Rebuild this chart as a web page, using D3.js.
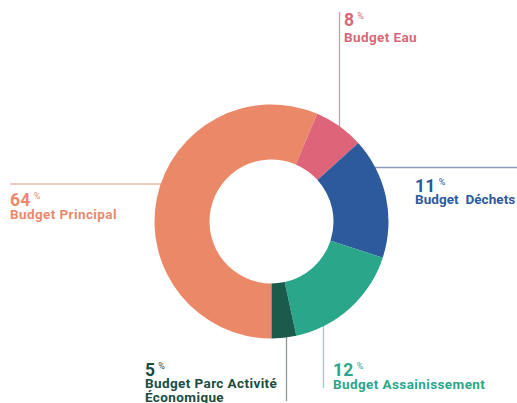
<!DOCTYPE html>
<html><head><meta charset="utf-8">
<script src="https://cdn.jsdelivr.net/npm/d3@7"></script>
<style>html,body{margin:0;padding:0;background:#fff;}svg{display:block;}</style>
</head><body>
<svg id="c" width="517" height="403"></svg>
<script>
const categories = ["Budget Principal","Budget Eau","Budget Déchets","Budget Assainissement","Budget Parc Activité Économique"];
const shares = [56.4, 6.9, 16.7, 16.6, 3.4];     // arc sizes as drawn
const percentLabels = ["64","8","11","12","5"];  // printed percentages
const colors = ["#EA8868","#DD6479","#2C5A9D","#2AA68B","#1A5B4B"];
const lineColors = ["#F1B9A6","#DE93A3","#8E9DB6","#8FD0C4","#8E9B99"];

const svg = d3.select("#c");
const cx = 271.5, cy = 221.5, R = 117, r = 62;
const font = "Roboto, 'Noto Sans', sans-serif";

const pie = d3.pie().sort(null).value(d => d).startAngle(Math.PI).endAngle(3*Math.PI);
const arcs = pie(shares);
const arc = d3.arc().innerRadius(r).outerRadius(R);

// leader lines (behind pie)
const gl = svg.append("g");
const edgeY = x => Math.sqrt(Math.max(0, R*R - (x-cx)*(x-cx)));
const edgeX = y => Math.sqrt(Math.max(0, R*R - (y-cy)*(y-cy)));
const leaders = [
  {x1:10, y1:184, x2:cx - edgeX(184) + 3, y2:184},
  {x1:339.5, y1:12, x2:339.5, y2:cy - edgeY(339.5) + 3},
  {x1:517, y1:167.5, x2:cx + edgeX(167.5) - 3, y2:167.5},
  {x1:323.5, y1:388, x2:323.5, y2:cy + edgeY(323.5) - 3},
  {x1:286.5, y1:401, x2:286.5, y2:cy + edgeY(286.5) - 3}
];
gl.selectAll("line").data(leaders).join("line")
  .attr("x1",d=>d.x1).attr("y1",d=>d.y1).attr("x2",d=>d.x2).attr("y2",d=>d.y2)
  .attr("stroke",(d,i)=>lineColors[i]).attr("stroke-width",1.3);

svg.append("g").attr("transform",`translate(${cx},${cy})`)
  .selectAll("path").data(arcs).join("path")
  .attr("d",arc).attr("fill",(d,i)=>colors[i]);

// labels
const textColors = ["#E98A6C","#DB667A","#2C5A9D","#2AA68B","#1B4C3F"];
const labelPos = [
  {x:10, ny:206, ly:219, ls:0.4, lines:["Budget Principal"]},
  {x:344, ny:26, ly:42, ls:0.4, lines:["Budget Eau"]},
  {x:415, ny:192, ly:203.5, ls:0.05, lines:["Budget  Déchets"]},
  {x:333, ny:376, ly:388.5, ls:0.4, lines:["Budget Assainissement"]},
  {x:145, ny:375.5, ly:388, ls:0.4, lines:["Budget Parc Activité","Économique"]}
];
const gt = svg.append("g").attr("font-family",font).attr("font-weight",700);
labelPos.forEach((p,i)=>{
  const t = gt.append("text").attr("x",p.x).attr("y",p.ny).attr("fill",textColors[i]);
  t.append("tspan").attr("font-size",17.5).attr("letter-spacing",0.3).text(percentLabels[i]);
  t.append("tspan").attr("font-size",9).attr("font-weight",400).attr("dx",3).attr("dy",-7).text("%");
  p.lines.forEach((l,j)=>{
    gt.append("text").attr("x",p.x).attr("y",p.ly+j*14)
      .attr("fill",textColors[i]).attr("font-size",13.5).attr("letter-spacing",p.ls)
      .style("white-space","pre").text(l);
  });
});
</script>
</body></html>
